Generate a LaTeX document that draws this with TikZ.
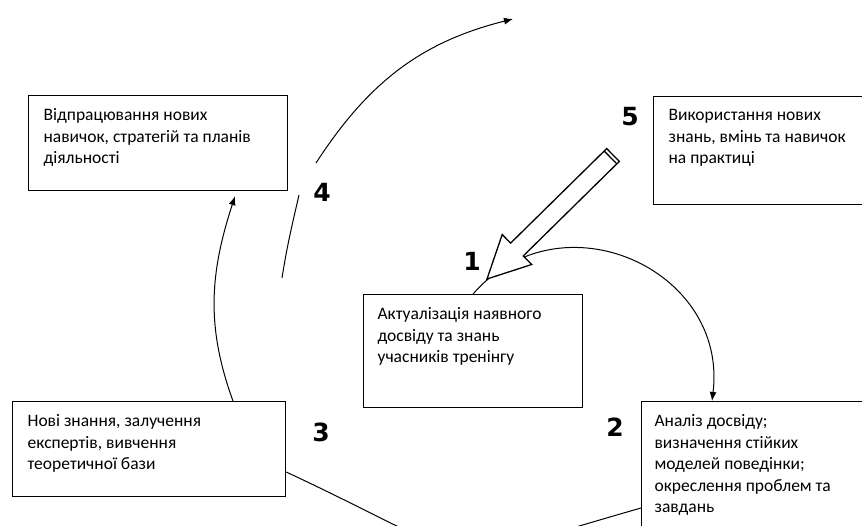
\documentclass[tikz,border=0pt]{standalone}
\usepackage{fontspec}
\setmainfont{Carlito}
\newfontfamily\numfont{DejaVu Sans}
\usepackage{tikz}
\usetikzlibrary{calc}
\usetikzlibrary{arrows.meta}
\tikzstyle{Box}=[draw,line width=1.2pt,inner sep=0pt,anchor=north west,
font=\fontsize{17.5}{21.5}\selectfont]
\tikzstyle{Num}=[font=\numfont\bfseries\fontsize{25}{25}\selectfont]
\tikzstyle{Edge}=[draw,line width=1pt,-{Latex[length=9pt,width=7pt]}]
\tikzstyle{Line}=[draw,line width=1pt]
\tikzstyle{Hollow}=[draw,fill=white,line width=1.3pt,line join=miter]
\newcommand{\BoxText}[4]{\parbox[c][#2][t]{#1}{\leftskip=#3
    \rightskip=0pt plus 1fil\parfillskip=0pt plus 1fil\relax
    \vspace*{13pt}#4}}

\begin{document}
\begin{tikzpicture}[x=1pt,y=1pt]
            \useasboundingbox(0,0)rectangle(862,526);
            % boxes
            \node[Box](b4)at(28,431){\BoxText{259pt}{95pt}{15pt}{Відпрацювання нових\\
                навичок, стратегій та планів\\діяльності}};
            \node[Box](b5)at(653,430){\BoxText{230pt}{108pt}{15pt}{Використання нових\\
                знань, вмінь та навичок\\на практиці}};
            \node[Box](b1)at(363,232){\BoxText{219pt}{113pt}{14pt}{Актуалізація наявного\\
                досвіду та знань\\учасників тренінгу}};
            \node[Box](b3)at(12,125){\BoxText{273pt}{95pt}{15pt}{Нові знання, залучення\\
                експертів, вивчення\\теоретичної бази}};
            \node[Box](b2)at(641,125){\BoxText{240pt}{150pt}{13pt}{Аналіз досвіду;\\
                визначення стійких\\моделей поведінки;\\окреслення проблем та\\завдань}};
            % numbers
            \node[Num](n1)at(472,265){1};
            \node[Num](n2)at(615,99){2};
            \node[Num](n3)at(321,94){3};
            \node[Num](n4)at(322,334){4};
            \node[Num](n5)at(630,409){5};
            % cycle
            \draw[Edge](b1.north)to[out=49,in=83,looseness=1.3]
                ([xshift=71pt]b2.north west);
            \draw[Line]([yshift=-107pt]b2.north west)to[out=196,in=-25,looseness=1.6]
                ([yshift=-71pt]b3.north east);
            \draw[Edge]([xshift=221pt]b3.north west)to[out=110,in=-108]
                ([xshift=207pt,yshift=-5pt]b4.south west);
            \coordinate(c4a)at(282,248);
            \coordinate(c4b)at(299,331);
            \coordinate(c4c)at(316,363);
            \coordinate(c4d)at(513,507);
            \draw[Line](c4a)to[out=81,in=-103](c4b);
            \draw[Edge](c4c)to[out=57,in=194](c4d);
            % hollow arrow
            \coordinate(tip)at(487,247);
            \coordinate(tail)at(613,371);
            \draw[Hollow](tip)--($(tip)!42pt!(tail)!21pt!90:(tail)$)
                --($(tip)!42pt!(tail)!9pt!90:(tail)$)
                --($(tail)!9pt!-90:(tip)$)--($(tail)!9pt!90:(tip)$)
                --($(tip)!42pt!(tail)!9pt!-90:(tail)$)
                --($(tip)!42pt!(tail)!21pt!-90:(tail)$)--cycle;
            \draw[line width=1.3pt]($(tail)!3.5pt!(tip)!9pt!90:(tip)$)
                --($(tail)!3.5pt!(tip)!9pt!-90:(tip)$);
        \end{tikzpicture}
\end{document}
